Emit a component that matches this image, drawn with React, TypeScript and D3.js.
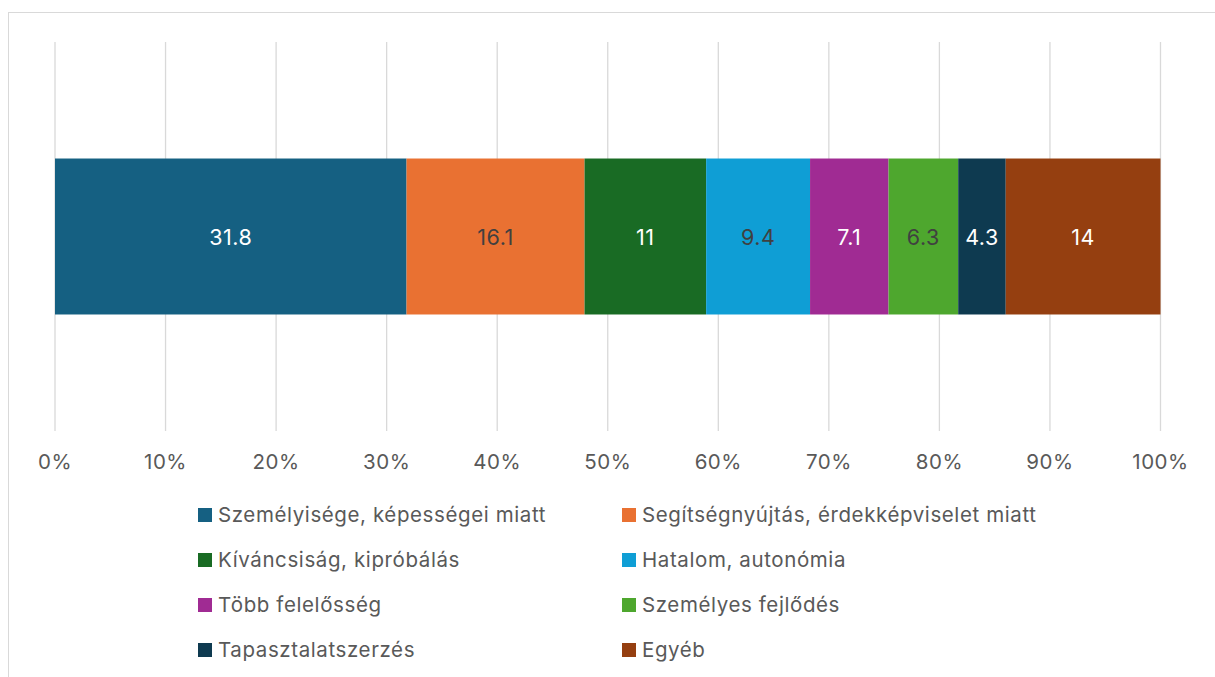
import React, { useEffect, useRef } from 'react';
import * as d3 from 'd3';

const categories = [
  'Személyisége, képességei miatt',
  'Segítségnyújtás, érdekképviselet miatt',
  'Kíváncsiság, kipróbálás',
  'Hatalom, autonómia',
  'Több felelősség',
  'Személyes fejlődés',
  'Tapasztalatszerzés',
  'Egyéb',
];
const values = [31.8, 16.1, 11, 9.4, 7.1, 6.3, 4.3, 14];
const colors = ['#156082', '#E97132', '#196B24', '#0F9ED5', '#A02B93', '#4EA72E', '#0E3A50', '#953F10'];
const labelColors = ['#ffffff', '#404040', '#ffffff', '#404040', '#ffffff', '#404040', '#ffffff', '#ffffff'];
const tickValues = [0, 0.1, 0.2, 0.3, 0.4, 0.5, 0.6, 0.7, 0.8, 0.9, 1];

const FONT = 'Inter, "Noto Sans", sans-serif';

export default function App() {
  const ref = useRef<SVGSVGElement>(null);

  useEffect(() => {
    const svg = d3.select(ref.current);
    svg.selectAll('*').remove();

    // chart frame, bottom and right run past the window
    svg.append('rect')
      .attr('x', 8.5).attr('y', 12.5)
      .attr('width', 1240).attr('height', 700)
      .attr('fill', '#fff')
      .attr('stroke', '#d9d9d9');

    const total = d3.sum(values);
    const x = d3.scaleLinear().domain([0, 1]).range([55, 1160.5]);
    const y = d3.scaleBand().domain(['a']).range([42, 431]).paddingInner(0).paddingOuter(0.747);

    svg.append('g')
      .selectAll('line')
      .data(tickValues)
      .enter()
      .append('line')
      .attr('x1', d => x(d)).attr('x2', d => x(d))
      .attr('y1', 42).attr('y2', 431)
      .attr('stroke', '#d9d9d9')
      .attr('stroke-width', 1.3);

    svg.append('g')
      .selectAll('text')
      .data(tickValues)
      .enter()
      .append('text')
      .attr('x', d => x(d))
      .attr('y', 462)
      .attr('dy', '0.35em')
      .attr('text-anchor', 'middle')
      .attr('fill', '#595959')
      .style('font-family', FONT)
      .style('font-size', '20.5px')
      .style('letter-spacing', '0.5px')
      .text(d => d3.format('.0%')(d));

    const stacked = d3.stack<any>().keys(categories.map((_, i) => String(i)))([
      Object.fromEntries(values.map((v, i) => [String(i), v / total])),
    ]);

    const bars = svg.append('g');
    stacked.forEach((s, i) => {
      const seg = s[0];
      bars.append('rect')
        .attr('x', x(seg[0]))
        .attr('y', y('a')!)
        .attr('width', x(seg[1]) - x(seg[0]))
        .attr('height', y.bandwidth())
        .attr('fill', colors[i]);
      bars.append('text')
        .attr('x', (x(seg[0]) + x(seg[1])) / 2)
        .attr('y', y('a')! + y.bandwidth() / 2 + 1)
        .attr('dy', '0.35em')
        .attr('text-anchor', 'middle')
        .attr('fill', labelColors[i])
        .style('font-family', FONT)
        .style('font-size', '21.5px')
        .style('letter-spacing', '0.5px')
        .text(values[i]);
    });

    const legend = svg.append('g');
    const colX = [198, 622];
    categories.forEach((c, i) => {
      const cx = colX[i % 2];
      const cy = 515 + Math.floor(i / 2) * 45;
      legend.append('rect')
        .attr('x', cx).attr('y', cy - 7)
        .attr('width', 14).attr('height', 14)
        .attr('fill', colors[i]);
      legend.append('text')
        .attr('x', cx + 20)
        .attr('y', cy)
        .attr('dy', '0.35em')
        .attr('fill', '#595959')
        .style('font-family', FONT)
        .style('font-size', '20.5px')
        .style('letter-spacing', '0.6px')
        .text(c);
    });
  }, []);

  return (
    <svg ref={ref} width={1215} height={677} style={{ position: 'absolute', left: 0, top: 0 }}></svg>
  );
}
